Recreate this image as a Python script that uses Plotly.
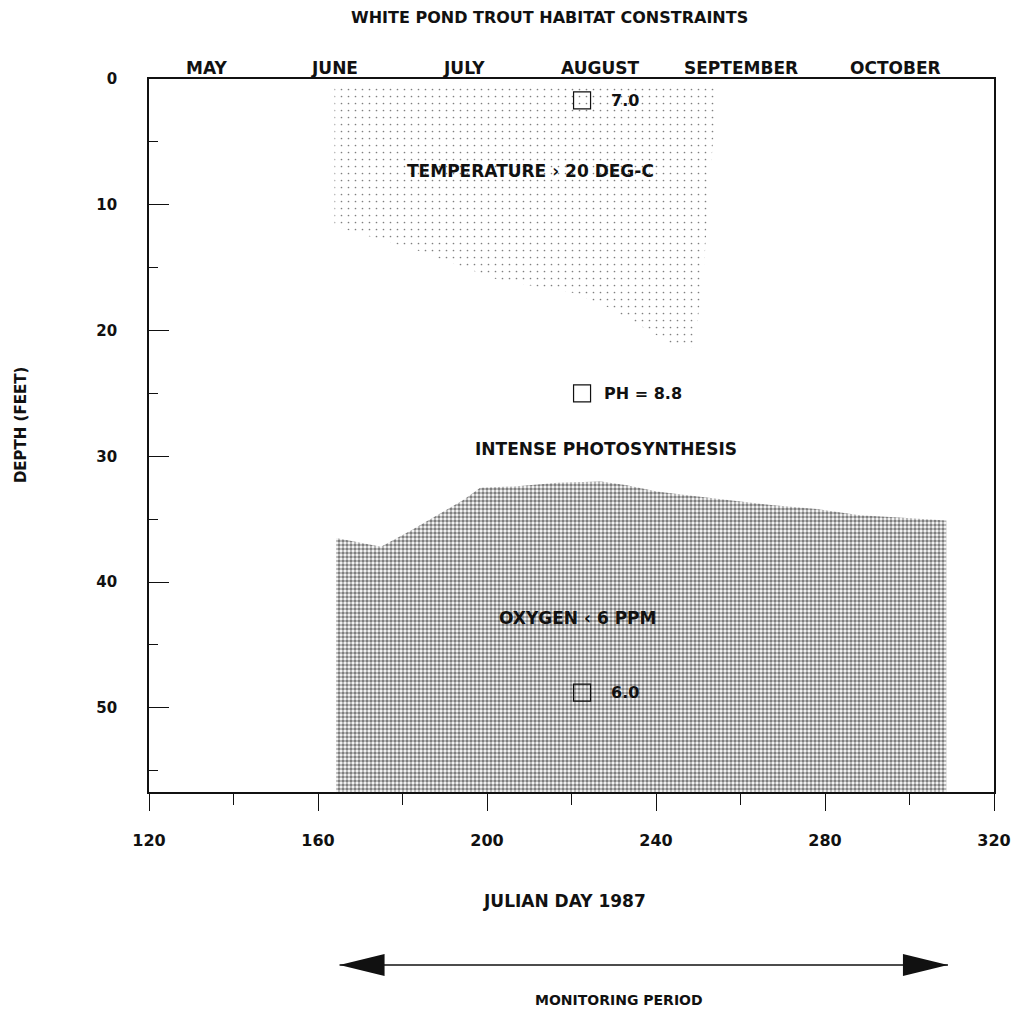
import plotly.graph_objects as go

# ---- data -------------------------------------------------------------
# Temperature > 20 C zone (Julian day, depth in feet), traced clockwise
temp_days = [163.9, 254.8, 252.9, 251.3, 249.6, 249.3, 243.8, 236.7, 228.9,
             220.2, 202.9, 183.2, 163.9]
temp_depths = [0.4, 0.4, 7.2, 15.2, 20.0, 21.4, 21.1, 19.7, 18.2,
               17.0, 16.0, 13.6, 11.7]

# Upper limit of the oxygen < 6 ppm zone (Julian day, depth in feet)
oxy_days = [164.3, 174.9, 182.0, 189.2, 194.3, 198.4, 206.5, 216.7, 227.0,
            233.1, 240.2, 247.4, 257.6, 267.8, 278.0, 288.2, 298.4, 308.7]
oxy_depths = [36.5, 37.2, 35.9, 34.5, 33.5, 32.5, 32.4, 32.1, 32.0,
              32.3, 32.8, 33.1, 33.5, 33.9, 34.2, 34.7, 34.9, 35.1]
bottom_depth = 56.7

# Profile readings
sample_days = [222.5, 222.5, 222.5]
sample_depths = [1.7, 25.0, 48.8]
sample_labels = ["7.0", "PH = 8.8", "6.0"]

# Calendar months along the top axis
month_names = ["MAY", "JUNE", "JULY", "AUGUST", "SEPTEMBER", "OCTOBER"]
month_centers = [133.6, 163.9, 194.6, 226.7, 260.1, 296.7]
month_bounds = [148.6, 179.9, 210.0, 241.1, 277.5, 310.3]

day_ticks = [120, 160, 200, 240, 280, 320]
depth_ticks = [0, 10, 20, 30, 40, 50]

monitoring_period = [165.1, 309.1]

FONT = "DejaVu Sans"
INK = "#111111"


def bold(size):
    return dict(family=FONT, size=size, color=INK, weight="bold")


fig = go.Figure()

# Temperature zone: sparse dot screen
fig.add_trace(go.Scatter(
    x=temp_days, y=temp_depths, mode="lines", fill="toself",
    line=dict(width=0, color="rgba(0,0,0,0)"),
    fillcolor="rgba(0,0,0,0)",
    fillpattern=dict(shape=".", size=7, solidity=0.045,
                     fgcolor="#000000", bgcolor="rgba(0,0,0,0)"),
    hoverinfo="skip", showlegend=False,
))

# Oxygen zone: dense dot screen down to the bottom
oxy_x = oxy_days + [oxy_days[-1], oxy_days[0]]
oxy_y = oxy_depths + [bottom_depth, bottom_depth]
fig.add_trace(go.Scatter(
    x=oxy_x, y=oxy_y, mode="lines", fill="toself",
    line=dict(width=0, color="rgba(0,0,0,0)"),
    fillcolor="rgba(0,0,0,0)",
    fillpattern=dict(shape=".", size=4, solidity=0.6,
                     fgcolor="#000000", bgcolor="rgba(0,0,0,0)"),
    hoverinfo="skip", showlegend=False,
))

# Sample markers
fig.add_trace(go.Scatter(
    x=sample_days, y=sample_depths, mode="markers",
    marker=dict(symbol="square-open", size=17, color=INK,
                line=dict(width=1.2, color=INK)),
    hoverinfo="skip", showlegend=False,
))

annotations = []
label_shifts = [27, 20, 27]
for d, z, txt, sh in zip(sample_days, sample_depths, sample_labels, label_shifts):
    annotations.append(dict(
        x=d, y=z, xref="x", yref="y", text=txt, showarrow=False,
        xanchor="left", yanchor="middle", xshift=sh, font=bold(16),
    ))

# Zone labels
zone_labels = [
    ("TEMPERATURE › 20 DEG-C", 210.2, 7.3),
    ("INTENSE PHOTOSYNTHESIS", 228.1, 29.4),
    ("OXYGEN ‹ 6 PPM", 221.5, 42.9),
]
for txt, d, z in zone_labels:
    annotations.append(dict(
        x=d, y=z, xref="x", yref="y", text=txt, showarrow=False,
        xanchor="center", yanchor="middle", font=bold(17),
    ))

# Month names above the top axis
for name, c in zip(month_names, month_centers):
    annotations.append(dict(
        x=c, y=1.0154, xref="x", yref="paper", text=name, showarrow=False,
        xanchor="center", yanchor="middle", font=bold(17),
    ))

# Titles
annotations += [
    dict(x=0.4740, y=1.0856, xref="paper", yref="paper",
         text="WHITE POND TROUT HABITAT CONSTRAINTS", showarrow=False,
         xanchor="center", yanchor="middle", font=bold(16)),
    dict(x=-0.1523, y=0.515, xref="paper", yref="paper",
         text="DEPTH (FEET)", showarrow=False, textangle=-90,
         xanchor="center", yanchor="middle", font=bold(15)),
    dict(x=0.492, y=-0.1529, xref="paper", yref="paper",
         text="JULIAN DAY 1987", showarrow=False,
         xanchor="center", yanchor="middle", font=bold(17)),
    dict(x=0.556, y=-0.2917, xref="paper", yref="paper",
         text="MONITORING PERIOD", showarrow=False,
         xanchor="center", yanchor="middle", font=bold(14)),
]

# Monitoring period arrow
arrow_y = -0.2426
shapes = [
    dict(type="line", xref="x", yref="paper",
         x0=monitoring_period[0], x1=monitoring_period[1],
         y0=arrow_y, y1=arrow_y, line=dict(color=INK, width=1.5)),
    dict(type="path", xref="x", yref="paper",
         xsizemode="pixel", ysizemode="pixel",
         xanchor=monitoring_period[0], yanchor=arrow_y,
         path="M0,0 L45,11 L45,-11 Z", fillcolor=INK, line=dict(width=0)),
    dict(type="path", xref="x", yref="paper",
         xsizemode="pixel", ysizemode="pixel",
         xanchor=monitoring_period[1], yanchor=arrow_y,
         path="M0,0 L-45,11 L-45,-11 Z", fillcolor=INK, line=dict(width=0)),
]

fig.update_layout(
    width=1023, height=1010,
    margin=dict(l=149, r=27, t=79, b=218, pad=0),
    paper_bgcolor="white", plot_bgcolor="white",
    showlegend=False,
    annotations=annotations,
    shapes=shapes,
    xaxis=dict(
        range=[120, 320], tickmode="array", tickvals=day_ticks,
        ticktext=[str(v) for v in day_ticks],
        ticks="outside", ticklen=17, tickwidth=1.2, tickcolor=INK,
        minor=dict(dtick=20, tick0=120, ticks="outside", ticklen=11,
                   tickwidth=1, tickcolor=INK, showgrid=False),
        showline=True, linecolor=INK, linewidth=1.6, mirror=True,
        showgrid=False, zeroline=False, ticklabelstandoff=16,
        tickfont=bold(16),
    ),
    xaxis2=dict(
        overlaying="x", side="top", range=[120, 320],
        tickmode="array", tickvals=month_bounds,
        ticks="outside", ticklen=5, tickwidth=1, tickcolor=INK,
        showticklabels=False, showline=False, showgrid=False, zeroline=False,
    ),
    yaxis=dict(
        range=[bottom_depth, 0], tickmode="array", tickvals=depth_ticks,
        ticks="inside", ticklen=20, tickwidth=1.2, tickcolor=INK,
        minor=dict(dtick=5, tick0=0, ticks="inside", ticklen=9,
                   tickwidth=1, tickcolor=INK, showgrid=False),
        showline=True, linecolor=INK, linewidth=1.6, mirror=True,
        showgrid=False, zeroline=False, ticklabelstandoff=27,
        tickfont=bold(15),
    ),
)

fig.write_html("out.html")
